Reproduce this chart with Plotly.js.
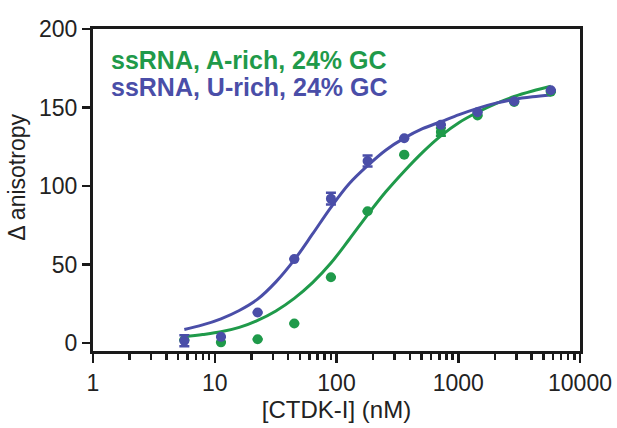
<!DOCTYPE html>
<html><head><meta charset="utf-8">
<script src="https://cdn.plot.ly/plotly-3.0.1.min.js"></script>
<style>html,body{margin:0;padding:0;background:#fff}#c{width:617px;height:428px}</style>
</head><body><div id="c"></div>
<script>
// Measured concentrations (nM)
const conc = [5.625, 11.25, 22.5, 45, 90, 180, 360, 720, 1440, 2880, 5760];
// U-rich (blue) data
const uRich = [1.5, 4.0, 19.5, 53.5, 92, 116, 130.5, 139, 147, 154, 161];
const uRichErr = [3.5, 0, 0, 0, 3.7, 3.5, 0, 0, 0, 0, 0];
// A-rich (green) data
const aRich = [2, 0.5, 2.5, 12.5, 42, 84, 120, 134.5, 145, 153.5, 160];
const aRichErr = [0, 0, 0, 0, 0, 0, 0, 2.5, 0, 0, 0];
// Fitted curves
const fitConc = [5.625, 7.95, 11.25, 15.9, 22.5, 31.8, 45, 63.6, 90, 127, 180, 255, 360, 509, 720, 1018, 1440, 2036, 2880, 4073, 5760];
const uFit = [8.7, 11.6, 15.5, 20.8, 28, 39, 53, 69.5, 86.5, 101.5, 113, 123, 130.5, 136.5, 141, 145.5, 149.5, 152.8, 155.2, 156.8, 158];
const aFit = [4.2, 5.5, 7.2, 10, 14.5, 20.5, 28.5, 38.5, 51, 66, 81.7, 96.5, 109.5, 121.5, 132, 140.5, 147, 152.5, 157, 160.5, 163.5];
const xTickVals = [1, 10, 100, 1000, 10000];
const xTickText = ['1', '10', '100', '1000', '10000'];
const yTickVals = [0, 50, 100, 150, 200];

const blue = '#4a4ea8', green = '#1f9a4a';
const traces = [
  {x: fitConc, y: aFit, mode: 'lines', line: {color: green, width: 3, shape: 'spline', smoothing: 1}, hoverinfo: 'skip'},
  {x: fitConc, y: uFit, mode: 'lines', line: {color: blue, width: 3, shape: 'spline', smoothing: 1}, hoverinfo: 'skip'},
  {x: conc, y: aRich, mode: 'markers', marker: {color: green, size: 10},
   error_y: {type: 'data', array: aRichErr, color: green, thickness: 2.5, width: 5}},
  {x: conc, y: uRich, mode: 'markers', marker: {color: blue, size: 10},
   error_y: {type: 'data', array: uRichErr, color: blue, thickness: 2.5, width: 5}}
];
const layout = {
  width: 617, height: 428, showlegend: false,
  margin: {l: 93, r: 37, t: 29, b: 77},
  paper_bgcolor: '#fff', plot_bgcolor: '#fff',
  font: {family: 'Liberation Sans, Arial, sans-serif', color: '#222', size: 23},
  xaxis: {type: 'log', range: [0, 4], showgrid: false, zeroline: false,
    showline: true, linecolor: '#1a1a1a', linewidth: 3, mirror: true,
    ticks: 'outside', ticklen: 9, tickwidth: 2.5, tickcolor: '#1a1a1a',
    tickvals: xTickVals, ticktext: xTickText, tickfont: {size: 23, color: '#222'},
    minor: {ticks: 'outside', ticklen: 6, tickwidth: 2.5, tickcolor: '#1a1a1a', dtick: 'D1', showgrid: false},
    title: {text: '[CTDK-I] (nM)', font: {size: 24, color: '#222'}, standoff: 2}},
  yaxis: {range: [-5, 200], showgrid: false, zeroline: false,
    showline: true, linecolor: '#1a1a1a', linewidth: 3, mirror: true,
    ticks: 'outside', ticklen: 8, tickwidth: 2.5, tickcolor: '#1a1a1a',
    tickvals: yTickVals, tickfont: {size: 23, color: '#222'}},
  annotations: [
    {xref: 'paper', yref: 'paper', x: -0.155, y: 0.54, xanchor: 'center', yanchor: 'middle', showarrow: false,
     textangle: -90, text: 'Δ anisotropy', font: {size: 23, color: '#222'}},
    {xref: 'paper', yref: 'paper', x: 0.033, y: 0.905, xanchor: 'left', yanchor: 'middle', showarrow: false,
     text: '<b>ssRNA, A-rich, 24% GC</b>', font: {size: 25, color: green}},
    {xref: 'paper', yref: 'paper', x: 0.033, y: 0.82, xanchor: 'left', yanchor: 'middle', showarrow: false,
     text: '<b>ssRNA, U-rich, 24% GC</b>', font: {size: 25, color: blue}}
  ]
};
Plotly.newPlot('c', traces, layout, {displayModeBar: false, staticPlot: true});
</script></body></html>
